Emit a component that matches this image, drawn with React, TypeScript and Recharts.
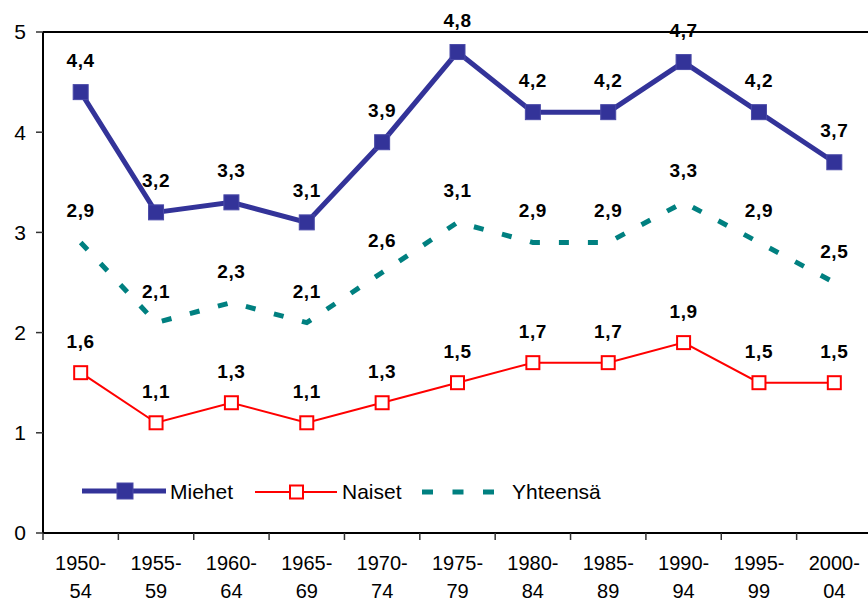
import { LineChart, Line, XAxis, YAxis, ReferenceLine, LabelList } from 'recharts';

const periods = ['1950-54', '1955-59', '1960-64', '1965-69', '1970-74', '1975-79', '1980-84', '1985-89', '1990-94', '1995-99', '2000-04'];
const miehet = [4.4, 3.2, 3.3, 3.1, 3.9, 4.8, 4.2, 4.2, 4.7, 4.2, 3.7];
const naiset = [1.6, 1.1, 1.3, 1.1, 1.3, 1.5, 1.7, 1.7, 1.9, 1.5, 1.5];
const yhteensa = [2.9, 2.1, 2.3, 2.1, 2.6, 3.1, 2.9, 2.9, 3.3, 2.9, 2.5];
const yTicks = [0, 1, 2, 3, 4, 5];

const data = periods.map((p, i) => ({
  period: p,
  Miehet: miehet[i],
  Naiset: naiset[i],
  Yhteensä: yhteensa[i],
}));

const FONT = '"Liberation Sans", Arial, sans-serif';
const BLUE = '#333399';
const RED = '#ff0000';
const TEAL = '#008080';

// plot is 829px wide, 11 category bands
const PLOT_W = 829;
const HALF_BAND = PLOT_W / periods.length / 2;

const fmt = (v: number) => v.toFixed(1).replace('.', ',');

const FilledSquare = (props: any) => {
  const { cx, cy } = props;
  if (cx == null || cy == null) return null;
  return <rect x={cx - 7.5} y={cy - 7.5} width={15} height={15} fill={BLUE} stroke="#4a4aa8" strokeWidth={1} />;
};

const OpenSquare = (props: any) => {
  const { cx, cy } = props;
  if (cx == null || cy == null) return null;
  return <rect x={cx - 6.5} y={cy - 6.5} width={13} height={13} fill="#fff" stroke={RED} strokeWidth={2} />;
};

const PeriodTick = (props: any) => {
  const { x, y, payload, index, visibleTicksCount } = props;
  const [a, b] = String(payload.value).split('-');
  const last = index === visibleTicksCount - 1;
  return (
    <g transform={`translate(${x},${y})`}>
      <line x1={-HALF_BAND} y1={0} x2={-HALF_BAND} y2={7} stroke="#333" strokeWidth={1.5} />
      {last && <line x1={HALF_BAND} y1={0} x2={HALF_BAND} y2={7} stroke="#333" strokeWidth={1.5} />}
      <text textAnchor="middle" fontFamily={FONT} fontSize={20} fill="#000">
        <tspan x={0} y={37}>{a}-</tspan>
        <tspan x={0} y={65}>{b}</tspan>
      </text>
    </g>
  );
};

const LegendOverlay = () => (
  <svg width={868} height={601} style={{ position: 'absolute', left: 0, top: 0, pointerEvents: 'none' }}>
    <line x1={82} y1={491} x2={166} y2={491} stroke={BLUE} strokeWidth={5} />
    <rect x={117} y={483} width={16} height={16} fill={BLUE} stroke="#4a4aa8" strokeWidth={1} />
    <text x={170} y={499} fontFamily={FONT} fontSize={21} fill="#000">Miehet</text>
    <line x1={255} y1={492} x2={337} y2={492} stroke={RED} strokeWidth={2} />
    <rect x={290} y={485.5} width={13} height={13} fill="#fff" stroke={RED} strokeWidth={2} />
    <text x={342} y={499} fontFamily={FONT} fontSize={21} fill="#000">Naiset</text>
    <line x1={422} y1={492} x2={495} y2={492} stroke={TEAL} strokeWidth={5} strokeDasharray="11 19.5" />
    <text x={512} y={499} fontFamily={FONT} fontSize={21} fill="#000">Yhteensä</text>
  </svg>
);

const labelStyle = { fontFamily: FONT, fontSize: 19, fontWeight: 'bold' as const, fill: '#000', letterSpacing: 0.6 };

export default function App() {
  return (
    <div style={{ position: 'absolute', left: 0, top: 0, width: 868, height: 601, overflow: 'hidden', background: '#fff' }}>
      <LineChart width={880} height={601} data={data} margin={{ top: 32, right: 8, bottom: 0, left: 0 }}>
        <XAxis
          dataKey="period"
          height={68}
          tick={<PeriodTick />}
          tickLine={false}
          tickSize={0}
          tickMargin={0}
          padding={{ left: HALF_BAND, right: HALF_BAND }}
          axisLine={{ stroke: '#000', strokeWidth: 2 }}
          interval={0}
        />
        <YAxis
          domain={[0, 5]}
          ticks={yTicks}
          width={43}
          tickSize={7}
          tickMargin={10}
          tickLine={{ stroke: '#333', strokeWidth: 1.5 }}
          axisLine={{ stroke: '#000', strokeWidth: 2 }}
          tick={{ fontFamily: FONT, fontSize: 21, fill: '#000' }}
        />
        <ReferenceLine y={5} stroke="#000" strokeWidth={2} />
        <Line
          dataKey="Yhteensä"
          stroke={TEAL}
          strokeWidth={5}
          strokeDasharray="10 19"
          dot={false}
          activeDot={false}
          isAnimationActive={false}
        >
          <LabelList dataKey="Yhteensä" position="top" offset={25} formatter={fmt} style={labelStyle} />
        </Line>
        <Line
          dataKey="Naiset"
          stroke={RED}
          strokeWidth={2}
          dot={<OpenSquare />}
          activeDot={false}
          isAnimationActive={false}
        >
          <LabelList dataKey="Naiset" position="top" offset={25} formatter={fmt} style={labelStyle} />
        </Line>
        <Line
          dataKey="Miehet"
          stroke={BLUE}
          strokeWidth={5}
          dot={<FilledSquare />}
          activeDot={false}
          isAnimationActive={false}
        >
          <LabelList dataKey="Miehet" position="top" offset={25} formatter={fmt} style={labelStyle} />
        </Line>
      </LineChart>
      <LegendOverlay />
    </div>
  );
}
